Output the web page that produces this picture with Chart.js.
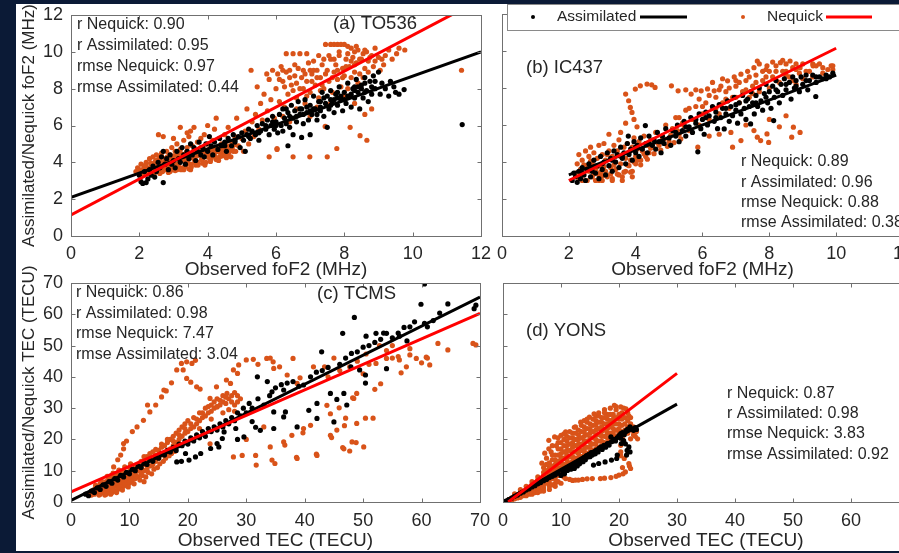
<!DOCTYPE html>
<html>
<head>
<meta charset="utf-8">
<script src="https://cdn.jsdelivr.net/npm/chart.js@4"></script>
<style>
  body { margin: 0; width: 899px; height: 553px; overflow: hidden; background: #0b1a36; position: relative; }
  #paper { position: absolute; left: 16px; top: 4px; width: 883px; height: 547px; background: #ffffff; overflow: hidden; }
  canvas { position: absolute; }
</style>
</head>
<body>
<div id="paper">
  <canvas id="toChart" width="482" height="286" style="left:0px;top:-8px"></canvas>
  <canvas id="icChart" width="430" height="278" style="left:474px;top:0px"></canvas>
  <canvas id="tcChart" width="482" height="289" style="left:0px;top:260px"></canvas>
  <canvas id="yoChart" width="440" height="281" style="left:474px;top:268px"></canvas>
</div>
<script>
// values: [observed, model]
// (a) TO536 foF2 (MHz)
var toAssim = [
  [2.0,3.3],[2.05,2.95],[2.1,2.85],[2.15,3.5],[2.2,2.9],[2.25,3.1],[2.3,3.6],[2.35,3.3],[2.4,3.8],[2.45,3.2],
  [2.5,3.5],[2.55,4.0],[2.6,3.7],[2.65,4.3],[2.7,2.9],[2.7,4.6],[2.75,3.9],[2.8,4.2],[2.85,3.6],[2.9,4.4],
  [2.95,3.9],[3.0,4.1],[3.05,3.7],[3.1,4.6],[3.15,4.2],[3.2,4.0],[3.25,4.8],[3.3,4.4],[3.35,3.9],[3.4,4.6],
  [3.45,4.2],[3.5,5.0],[3.55,4.4],[3.6,4.8],[3.65,4.1],[3.7,4.6],[3.75,5.1],[3.8,4.4],[3.85,4.8],[3.9,4.3],
  [3.95,5.0],[4.0,4.6],[4.05,5.4],[4.1,4.9],[4.15,4.4],[4.2,5.1],[4.3,4.7],[4.35,5.3],[4.4,4.9],[4.5,5.1],
  [4.55,4.6],[4.6,5.3],[4.7,4.9],[4.75,5.5],[4.8,5.1],[4.9,5.4],[4.95,4.8],[5.0,5.6],[5.05,5.2],[5.1,4.6],
  [5.15,5.5],[5.2,5.8],[5.25,5.3],[5.3,5.7],[5.4,5.5],[5.45,6.0],[5.5,5.2],[5.55,5.7],[5.6,6.1],[5.7,5.8],
  [5.75,6.3],[5.8,5.5],[5.85,6.0],[5.9,6.5],[5.95,5.8],[6.0,6.2],[6.05,5.6],[6.1,6.6],[6.15,6.0],[6.2,6.9],
  [6.2,5.7],[6.25,6.4],[6.3,6.1],[6.35,4.9],[6.35,6.7],[6.4,5.9],[6.45,7.1],[6.5,6.4],[6.5,5.5],[6.55,6.8],
  [6.6,6.2],[6.65,7.3],[6.7,6.6],[6.75,5.35],[6.75,6.9],[6.8,6.1],[6.85,7.4],[6.9,6.7],[6.95,6.3],[7.0,5.5],
  [7.0,7.1],[7.05,6.6],[7.1,7.6],[7.15,6.9],[7.2,6.3],[7.25,7.3],[7.3,6.8],[7.35,7.8],[7.4,6.5],[7.45,7.2],
  [7.5,5.9],[7.5,7.6],[7.55,6.9],[7.6,7.9],[7.65,7.3],[7.7,6.7],[7.75,7.7],[7.8,7.1],[7.85,8.1],[7.9,7.4],
  [7.95,6.8],[8.0,7.8],[8.05,7.2],[8.1,8.3],[8.15,7.6],[8.2,7.0],[8.25,8.0],[8.3,7.5],[8.35,8.5],[8.4,7.8],
  [8.45,6.9],[8.5,8.2],[8.55,7.5],[8.6,8.6],[8.65,7.9],[8.7,7.3],[8.75,8.4],[8.8,7.7],[8.85,8.7],[8.9,8.0],
  [9.0,8.9],[9.05,7.7],[9.1,8.3],[9.2,8.0],[9.3,7.6],[9.35,8.4],[9.45,8.1],[9.5,7.8],[9.6,7.7],[9.75,7.95],
  [11.45,6.05],
  [6.3,6.9],[6.6,6.5],[6.9,7.0],[7.2,6.6],[7.4,7.5],[7.6,7.1],[7.8,7.5],[8.0,7.4],[8.2,7.7],[8.4,8.1],
  [8.6,7.8],[8.8,8.1],[7.1,6.9],[7.7,7.4],[8.3,7.9],[6.8,6.6],[7.3,7.0],[7.9,7.6],[8.5,8.0],[5.5,5.6],
  [5.7,6.0],[6.0,6.0],[4.8,5.2],[5.2,5.4],[4.5,4.9],[5.9,6.2],[6.4,6.5],[6.7,6.9],[7.0,6.8],[7.3,7.3],
  [7.6,7.4],[7.8,7.8],[8.1,7.6],[8.3,8.1],[8.6,8.3],[8.9,8.4]
];
var toNequick = [
  [1.9,3.5],[1.95,3.7],[2.0,3.6],[2.05,3.9],[2.1,3.4],[2.15,3.8],[2.2,3.5],[2.2,4.0],[2.25,3.7],[2.3,4.2],
  [2.3,3.4],[2.35,3.9],[2.4,3.6],[2.4,4.3],[2.45,4.0],[2.5,3.5],[2.5,4.4],[2.55,3.8],[2.56,5.5],[2.6,4.1],
  [2.6,3.6],[2.65,4.5],[2.7,3.8],[2.7,5.4],[2.75,4.2],[2.8,3.6],[2.8,4.6],[2.85,4.0],[2.9,3.7],[2.9,4.4],
  [2.95,4.8],[3.0,3.8],[3.0,4.2],[3.05,4.6],[3.1,3.9],[3.1,5.0],[3.15,4.3],[3.2,3.7],[3.2,4.7],[3.2,5.9],
  [3.25,4.1],[3.3,5.2],[3.3,4.4],[3.35,3.8],[3.4,4.8],[3.4,4.1],[3.45,5.4],[3.5,4.4],[3.5,3.9],[3.55,4.9],
  [3.6,4.2],[3.6,5.9],[3.65,4.6],[3.7,5.1],[3.7,4.0],[3.75,4.4],[3.8,4.8],[3.8,5.3],[3.85,4.2],[3.9,4.6],
  [3.95,4.0],[4.0,5.0],[4.0,4.4],[4.05,4.7],[4.1,4.2],[4.15,5.2],[4.2,4.5],[4.25,6.4],[4.3,4.8],[4.35,4.3],
  [4.4,5.0],[4.45,4.5],[4.5,5.5],[4.55,4.8],[4.6,4.4],[4.7,5.1],[4.75,4.6],[4.8,5.4],[4.85,6.4],[4.9,4.9],
  [5.0,5.3],[2.15,3.55],[2.35,3.75],[2.45,3.45],[2.55,4.15],[2.65,3.65],[2.75,3.95],[2.85,3.45],[2.95,4.15],
  [3.05,3.55],[3.15,3.75],[3.25,4.45],[3.35,4.15],[3.45,3.65],[3.55,4.25],[3.65,3.85],[3.75,4.65],[3.85,3.95],
  [3.95,4.45],[4.05,4.25],[4.15,4.65],[4.25,4.15],[4.35,4.55],[4.45,4.85],[4.55,4.25],[4.65,4.65],[2.6,3.4],
  [2.9,3.5],[3.1,3.6],[3.3,3.6],[3.5,3.6],[2.4,3.9],[3.0,5.3],[3.4,5.6],[3.9,5.5],[4.2,5.8],[4.6,5.9],
  [4.0,6.0],[3.5,5.7],
  [2.05,3.45],[2.12,3.65],[2.18,3.85],[2.28,3.55],[2.33,3.95],[2.38,3.45],[2.42,3.7],[2.48,4.1],[2.52,3.6],
  [2.58,3.9],[2.62,4.3],[2.68,3.5],[2.72,4.0],[2.78,3.75],[2.82,4.3],[2.88,3.85],[2.92,4.1],[2.98,3.6],
  [3.02,4.35],[3.08,3.85],[3.12,4.5],[3.18,4.0],[3.22,3.6],[3.28,4.25],[3.32,3.75],[3.38,4.55],[3.42,3.95],
  [3.48,4.3],[3.52,3.75],[3.58,4.6],[3.62,4.0],[3.68,4.35],[3.72,3.85],[3.78,4.5],[3.82,4.15],[3.88,4.75],
  [3.92,3.85],[3.98,4.3],[4.02,4.55],[4.08,4.05],[4.12,4.4],[4.18,4.8],[4.22,4.3],[4.28,4.6],[4.32,4.1],
  [4.38,4.75],[4.42,4.35],[4.48,4.6],[4.52,4.4],[4.58,4.9],[4.62,4.55],[4.68,4.3],[4.72,4.75],[4.78,4.95],
  [4.82,4.6],
  [5.05,4.6],[5.1,5.7],[5.15,6.9],[5.2,5.0],[5.27,9.0],[5.3,6.2],[5.35,5.4],[5.4,6.6],[5.45,8.1],[5.5,5.8],
  [5.55,7.2],[5.6,6.3],[5.65,7.7],[5.73,8.8],[5.75,6.8],[5.8,4.3],[5.8,8.5],[5.85,7.4],[5.9,9.0],[5.95,6.4],
  [6.0,8.0],[6.03,4.7],[6.05,8.8],[6.1,7.3],[6.15,9.2],[6.2,8.4],[6.25,7.0],[6.3,9.9],[6.3,8.9],[6.35,7.7],
  [6.4,9.0],[6.45,8.2],[6.5,4.3],[6.5,9.9],[6.55,8.7],[6.6,7.5],[6.65,9.1],[6.7,9.9],[6.7,8.0],[6.75,8.6],
  [6.8,9.0],[6.85,7.2],[6.9,9.9],[6.9,8.4],[6.99,4.3],[7.0,9.0],[7.0,7.8],[7.05,8.8],[7.1,9.5],[7.15,8.2],
  [7.2,9.0],[7.25,7.5],[7.3,8.6],[7.35,9.3],[7.4,8.0],[7.44,5.95],[7.45,10.4],[7.5,4.3],[7.5,9.0],[7.55,8.4],
  [7.6,10.4],[7.6,9.6],[7.65,7.8],[7.7,10.4],[7.7,8.9],[7.75,9.3],[7.78,4.75],[7.8,10.4],[7.8,8.5],[7.85,9.8],
  [7.9,10.4],[7.9,8.1],[7.95,9.1],[8.0,10.4],[8.0,8.7],[8.05,9.6],[8.1,10.3],[8.1,8.0],[8.15,9.2],[8.2,10.2],
  [8.2,8.6],[8.17,5.9],[8.25,9.7],[8.3,10.0],[8.3,8.9],[8.35,9.4],[8.4,10.1],[8.45,8.8],[8.46,5.45],[8.5,9.6],
  [8.55,9.9],[8.6,9.1],[8.66,5.2],[8.65,10.0],[8.7,9.5],[8.8,9.8],[8.85,9.2],[8.9,10.2],[9.05,9.0],[9.1,9.6],
  [9.2,9.8],[9.3,10.1],[9.4,9.6],[9.53,9.9],[9.6,10.2],[9.77,10.1],[11.43,9.0],
  [6.2,6.5],[6.6,6.9],[7.0,6.5],[7.2,7.0],[6.4,6.2],[7.6,7.2],[8.3,7.2],[8.6,6.6],[8.8,6.9],[6.03,4.75],
  [6.1,8.5],[6.2,9.0],[6.25,8.1],[6.4,8.6],[6.5,7.9],[6.55,9.3],[6.6,8.3],[6.8,8.0],[6.85,8.8],[6.95,9.4],
  [7.05,8.4],[7.1,9.0],[7.2,8.6],[7.25,9.8],[7.35,8.2],[7.4,9.6],[7.45,8.8],[7.55,9.8],[7.65,8.6],[7.7,9.6],
  [7.8,9.0],[7.85,10.0],[7.95,8.6],[8.05,9.2],[8.1,9.9],[8.2,9.5],[8.3,9.3],[8.35,10.3],[8.45,9.6],[8.55,8.6],
  [8.6,10.1],[8.7,8.9],[8.75,9.7],[8.9,9.5],[9.0,9.7],[9.15,9.3],[8.0,7.6],[7.3,7.9],[6.9,7.6],[8.4,8.3]
];
var toFitAssim = [[0,2.1],[12,10.0]];
var toFitNequick = [[0,1.15],[12,12.85]];

// (b) IC437 foF2 (MHz)
var icAssim = [
  [2.1,3.0],[2.15,3.4],[2.2,3.2],[2.25,2.9],[2.3,3.5],[2.35,3.1],[2.4,3.7],[2.45,3.3],[2.5,3.0],[2.55,3.6],
  [2.6,3.9],[2.65,3.2],[2.7,3.5],[2.75,4.1],[2.8,3.4],[2.85,3.8],[2.9,3.1],[2.95,4.3],[3.0,3.6],[3.05,4.0],
  [3.1,3.3],[3.15,4.5],[3.2,3.8],[3.25,4.2],[3.3,3.5],[3.35,4.6],[3.4,4.0],[3.45,4.4],[3.5,3.7],[3.55,4.8],
  [3.6,4.2],[3.65,4.5],[3.7,3.9],[3.75,5.0],[3.78,5.4],[3.8,4.4],[3.85,4.7],[3.9,4.1],[3.95,5.1],[4.0,4.5],
  [4.05,4.9],[4.1,4.3],[4.15,5.3],[4.2,4.7],[4.29,5.97],[4.3,5.0],[4.35,4.5],[4.4,5.4],[4.5,4.9],[4.55,5.2],
  [4.6,4.7],[4.65,5.6],[4.7,5.1],[4.76,4.5],[4.8,5.4],[4.85,5.0],[4.9,5.8],[5.0,5.3],[5.05,4.9],[5.1,5.7],
  [5.2,5.4],[5.25,6.0],[5.3,5.1],[5.4,5.7],[5.45,6.2],[5.5,5.4],[5.6,5.9],[5.65,6.4],[5.7,5.6],[5.8,6.1],
  [5.86,4.55],[5.9,6.6],[5.95,5.8],[6.0,6.3],[6.05,5.5],[6.1,6.7],[6.15,6.0],[6.2,6.5],[6.3,7.0],[6.35,6.2],
  [6.4,6.7],[6.45,5.8],[6.5,7.1],[6.55,6.4],[6.6,6.9],[6.65,5.79],[6.7,6.6],[6.75,7.3],[6.8,6.2],[6.85,7.0],
  [6.9,6.5],[6.95,7.5],[7.0,6.8],[7.05,6.1],[7.1,7.2],[7.15,6.6],[7.2,7.6],[7.25,6.9],[7.3,6.3],[7.35,7.4],
  [7.4,7.0],[7.44,6.06],[7.45,7.8],[7.5,7.2],[7.55,6.6],[7.6,7.6],[7.65,7.0],[7.7,8.0],[7.75,7.3],[7.8,6.8],
  [7.85,7.7],[7.9,8.2],[7.95,7.2],[8.0,7.8],[8.05,6.9],[8.1,8.1],[8.13,6.24],[8.15,7.5],[8.2,8.4],[8.25,7.8],
  [8.3,7.2],[8.35,8.2],[8.4,7.6],[8.45,8.5],[8.5,7.9],[8.6,8.3],[8.65,7.4],[8.7,8.6],[8.75,8.0],[8.8,8.4],
  [8.9,7.8],[8.95,8.6],[9.0,8.2],[9.1,8.7],[9.15,7.9],[9.2,8.4],[9.3,8.7],[9.39,7.54],[9.4,8.3],[9.5,8.6],
  [9.6,8.5],[9.7,8.7],[9.8,8.6],[9.9,8.8],
  [5.5,5.9],[5.8,6.3],[6.1,6.4],[6.4,6.4],[6.7,6.9],[7.0,7.1],[7.3,7.3],[7.6,7.2],[7.9,7.5],[8.2,7.9],
  [8.5,8.2],[8.8,8.1],[9.1,8.4],[9.4,8.6],[9.7,8.5],[4.0,4.8],[4.4,5.0],[4.8,5.1],[5.2,5.6],[3.0,3.9],
  [3.3,4.1],[3.6,4.3],[2.4,3.4],[2.7,3.7]
];
var icNequick = [
  [2.2,3.4],[2.25,3.9],[2.3,4.4],[2.3,3.1],[2.35,3.6],[2.4,4.1],[2.45,3.3],[2.5,3.8],[2.5,4.6],[2.55,3.0],
  [2.6,3.5],[2.6,4.3],[2.65,4.8],[2.7,3.2],[2.7,3.9],[2.75,4.5],[2.8,3.0],[2.8,3.6],[2.85,4.2],[2.9,4.9],
  [2.9,3.3],[2.95,3.8],[3.0,4.4],[3.0,3.0],[3.05,5.0],[3.1,3.5],[3.1,4.1],[3.15,3.2],[3.2,4.6],[3.2,5.5],
  [3.25,3.7],[3.3,4.3],[3.3,3.1],[3.35,4.9],[3.4,3.6],[3.4,4.0],[3.45,4.6],[3.5,3.3],[3.5,5.2],[3.55,3.9],
  [3.6,4.4],[3.6,3.0],[3.65,4.8],[3.7,3.5],[3.7,4.2],[3.75,5.0],[3.8,3.8],[3.8,4.5],[3.85,4.1],[3.9,4.8],
  [3.9,3.5],[3.95,5.3],[4.0,4.3],[4.0,3.9],[4.05,4.7],[4.1,5.1],[4.15,4.1],[4.2,4.6],[4.25,5.4],[4.3,4.3],
  [4.35,4.9],[4.4,4.5],[4.45,5.2],[4.5,4.8],
  [2.35,3.35],[2.45,3.85],[2.55,3.55],[2.65,4.05],[2.75,3.35],[2.85,3.75],[2.95,3.45],[3.05,3.75],[3.15,4.4],
  [3.25,3.35],[3.35,3.85],[3.45,3.35],[3.55,4.3],[3.65,3.45],[3.75,3.85],[3.85,3.45],[3.95,4.0],[4.05,4.1],
  [4.15,3.85],[4.25,4.45],[4.35,4.15],[4.45,4.75],[4.55,4.45],[4.65,5.05],[4.75,4.65],[4.85,5.25],[4.95,4.85],
  [5.05,5.45],[5.15,5.05],[5.25,5.7],[5.35,5.25],[5.45,5.95],[3.3,3.0],[3.6,3.2],[3.9,3.2],[3.0,3.25],
  [2.4,3.0],[2.9,3.0],
  [3.55,5.6],[3.7,6.1],[3.84,6.95],[3.89,6.68],[3.79,7.31],[3.7,7.67],[3.99,7.94],[4.14,8.12],[4.34,8.21],
  [4.48,8.17],[4.58,8.03],[3.95,6.3],[4.04,5.9],
  [4.6,5.6],[4.7,4.9],[4.8,5.3],[4.9,6.0],[5.0,5.1],[5.1,5.8],[5.2,6.4],[5.3,5.5],[5.4,6.1],[5.5,6.8],
  [5.6,5.7],[5.7,6.3],[5.8,7.0],[5.9,6.0],[6.0,6.6],[6.1,7.2],[6.2,6.3],[6.3,6.9],[6.4,7.5],[6.5,6.6],
  [6.6,7.2],[6.7,7.8],[6.8,6.9],[6.9,7.5],[7.0,8.1],[7.1,7.2],[7.2,7.8],[7.3,8.4],[7.4,7.5],[7.5,8.1],
  [7.6,8.7],[7.7,7.8],[7.8,8.4],[7.9,9.0],[8.0,8.0],[8.1,8.6],[8.2,9.2],[8.3,8.3],[8.4,8.9],[8.5,9.3],
  [8.6,8.6],[8.7,9.1],[8.8,8.2],[8.9,8.8],[9.0,9.3],[9.2,8.9],[9.4,9.2],[9.6,8.8],[9.85,9.2],[9.3,9.3],
  [5.07,8.12],[5.27,7.85],[5.5,7.9],[5.66,7.67],[5.8,7.9],[5.96,7.85],[6.15,7.95],[6.35,7.85],[6.55,8.1],
  [6.75,8.39],[6.95,8.6],[7.15,8.75],[7.35,8.9],[7.54,9.1],[7.64,9.46],[7.93,9.2],[8.1,9.4],[8.33,9.37],
  [8.62,9.46],[8.8,9.3],[8.92,9.1],[9.31,9.2],[9.5,9.3],[9.9,9.2],[6.3,8.3],[6.6,8.5],[7.0,8.4],[7.4,8.6],
  [7.8,8.9],[8.2,8.9],[8.5,8.7],[7.7,9.3],[8.4,9.5],
  [5.9,7.4],[6.2,7.6],[6.5,7.9],[6.8,8.0],[7.1,8.3],[7.3,7.9],[7.6,8.3],[7.9,8.6],[8.2,8.4],[8.5,8.9],
  [8.8,9.0],[9.1,8.9],[9.3,8.6],[9.6,9.1],[7.0,7.5],[7.5,7.7],[8.0,8.9],[8.7,8.4],[9.0,8.5],[6.0,7.0],
  [6.4,6.9],[6.7,7.4],[5.3,6.4],[5.6,6.9],[9.75,9.0],[9.9,9.0],
  [7.74,5.16],[7.93,5.52],[8.72,5.88],[8.67,5.34],[8.92,5.6],[7.98,5.06],[7.64,5.34],[6.9,4.8],[6.85,5.6],
  [7.54,5.7],[5.86,4.8],[7.15,5.16],[8.3,5.9],[6.5,5.5],[7.3,6.0],[8.0,6.3],[8.5,6.5],[6.2,5.4]
];
var icFitAssim = [[2,3.3],[10,8.7]];
var icFitNequick = [[2,3.0],[10,10.15]];

// (c) TCMS TEC (TECU)
var tcAssim = [
  [2.5,2.5],[3,2],[3.5,3.5],[4,3],[4.5,4.5],[5,4],[5.5,5.5],[6,5],[6.5,6.5],[7,6],[7.5,7.5],[8,7],[8.5,8.5],
  [9,8],[9.5,9.5],[10,9],[10.5,10.5],[11,10],[11.5,11.5],[12,11],[12.5,12.5],[13,12],[13.5,13.5],[14,13],
  [14.5,14.5],[15,14],[15.5,15.5],[16,15],[16.5,16.5],[17,16],[17.5,17.5],[18,16.5],[18.1,12.8],[18.5,18.5],
  [18.9,13],[19,18],[19.5,19.5],[19.6,15.5],[20.2,13.4],[21.3,14.4],[22.2,15.5],[20,18.5],[20.5,20.5],
  [21,19.5],[21.5,21.5],[22,20.5],[22.5,22.5],[23,21],[23.9,17.1],[23.5,23.5],[24,22.5],[24.5,24],[25,23],
  [25.3,17.6],[25,18.7],[25.5,25],[25.9,20.3],[26,24],[26.2,22.4],[26.5,26],[27,25],[27.5,27],[28,26],
  [28.2,23.5],[28.5,20],[28.5,28.5],[29,27.5],[29.6,20.8],[29.5,30],[30,28.5],[30.5,31.5],[31,30],[31,25.7],
  [31.6,23.9],[32.4,22.9],[31.9,40],[32,33],[33,31],[33.6,38.5],[34,34],[34.4,35.2],[34.7,28.8],[34.7,23.5],
  [35,36.5],[36,37.5],[36.4,35.8],[36.4,27.2],[36.7,28.8],[37,38],[38,38.5],[38.7,24],[39,37],[39.8,37.4],
  [40.7,29.3],[41,40],[42,41.5],[42.1,31.5],[42.1,26.7],[42.9,48],[43,42],[44,43],[44.4,34.7],[45,25.6],
  [45.5,32.8],[46,44],[46.5,53.9],[46.7,34.7],[47,46],[47.2,31],[47.9,43.2],[48,47.5],[48.5,59],[49,48],
  [49.4,42.2],[50,49.5],[50.4,40.6],[50.4,38],[50.5,53],[51,50],[52,51],[52.2,53.9],[53,52],[53.5,54],
  [54,53.9],[54,42.6],[55,52.5],[56,54],[56.2,53],[57,55.8],[57.5,51.5],[58,56],[58.8,57.6],[59.9,63.2],
  [60.5,57.1],[60.5,69.7],[61,56],[62,58],[63.1,60.4],[64.5,63.3],[69,61.8],[69.3,62.9]
];
var tcNequick = [
  [3,2.5],[3.5,3.5],[4,2.5],[4,4],[4.5,3],[4.5,5],[5,2.5],[5,3.5],[5,4.5],[5,6],[5.5,3],[5.5,4],[5.5,5.5],
  [6,2.5],[6,3.5],[6,5],[6,6.5],[6.5,3],[6.5,4],[6.5,5.5],[6.5,7.5],[7,3],[7,4.5],[7,6],[7,8],[7.5,3.5],
  [7.5,5],[7.5,6.5],[7.5,8.5],[8,4],[8,5.5],[8,7],[8,9],[8.5,4.5],[8.5,6],[8.5,7.5],[8.5,9.5],[9,5],[9,6.5],
  [9,8],[9,10],[9.5,5.5],[9.5,7],[9.5,8.5],[10,6],[10,7.5],[10,9],[10,11],[10.5,7],[10.5,8.5],[10.5,10],
  [11,7.5],[11,9],[11,11],[11.5,8],[11.5,10],[11.5,12],[12,9],[12,11],[12,13],[12.5,6.5],[12.5,10],
  [12.5,12],[13,10.5],[13,13],[13,14.5],[13.5,11.5],[13.5,13.5],[14,12],[14,14],[14,16],[14.5,13],
  [14.5,15],[15,14],[15,16.5],[15.5,15],[15.5,17.5],[16,15.5],[16,18],[16.5,16.5],[16.5,19],[17,17],
  [17,20],[17.5,18],[17.5,21],[18,19],[18,22],[18.5,20],[18.5,23],[19,21],[19,24],[19.5,22],[19.5,25],
  [20,22.5],[20,26],[20.5,23.5],[21,24],[21,27],[21.5,25],[22,26],[22,28.5],[22.5,27],[23,27.5],[23,30],
  [23.5,28.5],[24,29],[24,31],[24.5,30],[25,30.5],[25,33],[25.5,31],[26,32],[26,34],[26.5,31.5],[27,33],
  [27.5,34],[28,31],[28,35],[28.5,32],
  [3.5,2.2],[4.2,3.2],[4.8,2.2],[5.2,3.0],[5.8,2.2],[6.2,4.2],[6.8,2.5],[7.2,3.8],[7.8,3.0],[8.2,4.8],
  [8.8,3.8],[9.2,5.8],[9.8,4.8],[10.2,6.8],[10.8,5.8],[11.2,8.2],[11.8,7],[12.2,8.5],[12.8,8],[13.2,9.5],
  [13.8,9],[14.2,10.5],[14.8,11],[15.2,12.2],[15.8,13],[16.2,14],[16.8,14.8],[17.2,15.5],[17.8,16.2],
  [4.2,5.3],[5.2,6.8],[6.2,8.2],[7.2,9.2],[8.2,10.2],[9.2,11.2],[10.2,12.2],[3.8,3.8],[6.8,5],[7.8,6],
  [8.8,7],[9.8,8],[10.8,9],[11.8,10],
  [12.5,14.5],[13.5,15.5],[14.5,16.8],[15.5,18.5],[16.5,20],[17.5,19.5],[18.5,21.5],[19.5,23.5],[20.5,25],
  [21.5,26.5],[22.5,28.5],[23.5,30.5],[24.5,32],[25.5,32.5],[26.5,33.5],[27.5,32],[28.5,34],[29,33],
  [22,23.5],[24,26.5],[26,28.5],[27,29.5],[28,29],
  [7.3,11.2],[8,13.5],[8.5,15],[9,17],[9,18.7],[9.5,19.5],[10.5,22.5],[11.3,24],[12.4,26.1],[13.1,31],
  [13.5,28.8],[14.5,31],[15.5,33.6],[15.9,35.8],[16.3,35.5],[17.2,38.1],[18.1,42.2],[18.9,44.3],[19.8,44.8],
  [20.7,44.3],[21.3,45.3],[19.2,42.2],[19.8,39.5],[20.5,38.3],[21.5,36.8],[22.1,36.1],[23.8,33.1],[25,30.4],
  [24.9,36.8],[26.6,39],[26.7,34.7],[27.3,37.9],[27.8,42.2],[28.5,41.1],[28.7,43.8],[30,45.4],[31.2,45.6],
  [32,44],[33.5,45.9],[34.1,46],[34.6,44.8],[34.7,42.7],[35.7,43.2],[37,40.6],[38,45.9],[38.7,37.9],
  [23.8,18.6],[27.8,14.4],[29.3,14.9],[31.6,14.9],[31.7,11.8],[34.4,13.4],[34.9,12.3],[34.1,17.6],
  [36.4,19.2],[36.6,18.2],[37.8,21.3],[38.6,14.3],[38.7,13.9],[39.7,22.1],[39.8,23.5],[41,24.5],[42,15.3],
  [42.1,14.9],[44.4,21.3],[44.6,20.6],[45.5,23],[46.5,17.4],[46.7,17],[46.8,24.4],[47,26.8],[47.7,16.3],
  [48.1,19.2],[48.8,19],[48.9,25.1],[50.1,17.6],[50.4,26.8],[51.7,26.8],[45.9,30.1],[44.4,28.2],[43.8,30.9],
  [48.2,33.3],[48.9,34.7],[48.4,33.1],[30,20],[33,24],
  [39.2,39.7],[41.5,43.2],[43.4,43.2],[44,40],[45,46],[46,42],[47.7,43.2],[49,45],[50.5,47.3],[51,44],
  [52.2,44.3],[52.8,50],[53,37.8],[54,45.9],[54,48.4],[55,46],[56.2,45.4],[56.5,41.3],[57.4,43.2],[58,47],
  [59.1,45.9],[60,44.5],[60.8,46.3],[61.4,43.8],[62.8,50.7],[64.5,48.6],[68.8,50.7],[69.3,50.2],[58,49],
  [55,50],[50,41],[52,36],[56,46.5],[61,46]
];
var tcFitAssim = [[0,0.5],[70,65.5]];
var tcFitNequick = [[0,3.2],[70,60.3]];

// (d) YONS TEC (TECU)
var yoAssim = [
  [0.5,0.3],[1,0.8],[1.5,1.2],[2,1.8],[2.5,2.2],[3,2.8],[3.5,3.2],[4,3.8],[4.5,4.2],[5,4.8],[5.5,5.2],[6,5.8],
  [6.5,6.2],[7,6.8],[7.5,7.2],[8,7.8],[8.5,8.2],[9,8.6],[9.5,9.2],
  [10,8.5],[10.3,9.8],[10.6,9],[10.9,10.6],[11.1,10.1],[11.4,11.3],[11.7,10.5],[12,11.8],[12.3,10.7],
  [12.5,12.3],[12.8,11.5],[13,13],[13.2,12.2],[13.4,12.8],[13.6,13.7],[13.8,12.9],[14,14.3],[14.2,13.5],
  [14.4,14.8],[14.6,14.4],[14.8,15.2],[15,14.5],[15.2,15.8],[15.4,15],[15.7,16],[15.9,15.4],[16.1,16.6],
  [16.4,16],[16.6,17.2],[16.9,17.6],[17.1,16.8],[17.4,18.1],[17.7,17.5],[18,18.7],[18.3,18.2],[18.6,20.8],
  [18.8,19.3],[19.1,20],[19.4,19.5],[19.7,20.6],[20,21.2],[20.3,21.9],[20.3,20.4],[20.6,22.2],[20.9,21.5],
  [21.2,22.8],[21.5,23.3],[21.9,24],[22.2,23.4],[22.5,22.9],[22.8,23.8],[23,23.2],[21.1,18.6],[21.4,16.5],
  [21.7,17.6],[21.9,16],[21.3,15],[20.4,18.7],[20.8,19.6],[19.7,15],[19.6,13.9],[18.7,13.4],[17.6,12.8],
  [16.5,12.3],[15.6,11.8]
];
var yoNequick = [
  [1,0.2],[1,0.8],[1.5,0.5],[1.5,1.3],[2,1],[2,1.8],[2,2.6],[2.5,1.3],[2.5,2.3],[3,1.5],[3,2.3],[3,3.2],[3,4],
  [3.5,2],[3.5,3],[4,2],[4,3],[4,4],[4,5],[4.5,2.5],[4.5,3.5],[4.5,4.5],[5,2.5],[5,3.5],[5,4.5],[5,5.5],[5,6.5],
  [5.5,3],[5.5,4],[5.5,5],[5.5,6],[6,3],[6,4],[6,5],[6,6],[6,7],[6,8],
  [1.2,0.5],[1.8,1.4],[2.2,1.6],[2.8,2],[3.2,2.6],[3.8,2.8],[3.8,3.5],[4.2,3.4],[4.8,3.2],[4.8,4],[5.2,3.8],
  [5.8,4.6],[6.2,4.5],[6.5,3.5],[6.5,5.5],[6.5,7.2],[6.8,6],
  [7,3.5],[7,4.5],[7,5.5],[7,6.5],[7,7.5],[7,8.5],[7,9.5],[7,11],[7.2,15.6],[6.7,12.4],[7.5,14],
  [8,4],[8,5],[8,6],[8,7],[8,8],[8,9],[8,10],[8,11],[8,12.5],[7.9,17],[7.9,19.7],[8.3,16],
  [9,5],[9,6],[9,7.5],[9,9],[9,10.5],[9,12],[9,13.5],[9,15],[8.9,20.8],[9.2,18],
  [10,6],[10,9.6],[10,11],[10,12.5],[10,14],[10,15.5],[10,17],[10,19],[10,21.3],
  [10.8,7.5],[11,12],[11,13.5],[11,15],[11,16.5],[11,18],[11,19.5],[10.8,22.4],[11,21],
  [12,6.9],[12,13],[12,14.5],[12,16],[12,17.5],[12,19],[12,20.5],[12,22],[12.3,23.9],
  [13,7],[13,14],[13,15.5],[13,17],[13,18.5],[13,20],[13,21.5],[13,23],[13.4,25.5],
  [13.7,7.2],[14,15],[14,16.5],[14,18],[14,19.5],[14,21],[14,22.5],[14,24],[14,26],
  [15.4,7.5],[15,16],[15,17.5],[15,19],[15,20.5],[15,22],[15,23.5],[15,25],[14.9,27.1],[15.7,28.2],
  [16.8,7.5],[16,17],[16,18.5],[16,20],[16,21.5],[16,23],[16,24.5],[16,26],[16,27.5],
  [17,18],[17,19.5],[17,21],[17,22.5],[17,24],[17,25.5],[17,27],[17.5,29.5],
  [18.6,7.8],[18,19],[18,20.5],[18,22],[18,23.5],[18,25],[18,26.5],[18,28],[18.5,30],
  [19,20.5],[19,22],[19,23.5],[19,25],[19,26.5],[19,28],[19.2,30.9],[19.5,29.5],
  [20,8.6],[20.3,16],[20.3,18.1],[20.6,20.2],[20,22],[20,23.5],[20,25],[20,26.6],[20,28],[20.3,30.4],
  [21.1,9.6],[20.9,13.9],[21.7,12.3],[22,10.7],[22,20.2],[21,23],[21,25],[21,27],[21.2,29.8],[21.5,28.5],
  [23.2,20.2],[22.5,21.5],[22,23],[22,25],[22.5,24],[22,27],[23,22.5],
  [7.5,6],[7.5,8],[7.5,10],[7.5,12],[8.5,5.5],[8.5,7.5],[8.5,9.5],[8.5,11.5],[8.5,13.5],[8.5,15],[8.5,18],
  [9.5,6.5],[9.5,8.5],[9.5,11],[9.5,13],[9.5,15],[9.5,17],[9.5,19],[9.5,20.5],[10.5,8],[10.5,12],[10.5,14],
  [10.5,16],[10.5,18],[10.5,20],[10.5,21.8],[11.5,7.2],[11.5,12.5],[11.5,14.5],[11.5,16.5],[11.5,18.5],
  [11.5,20.5],[11.5,22.5],[12.5,7],[12.5,14],[12.5,16],[12.5,18],[12.5,20],[12.5,22],[12.5,24],[13.5,14.5],
  [13.5,16.5],[13.5,18.5],[13.5,20.5],[13.5,22.5],[13.5,24.5],[14.5,7.4],[14.5,15.5],[14.5,17.5],[14.5,19.5],
  [14.5,21.5],[14.5,23.5],[14.5,25.5],[14.5,26.5],[15.5,16.5],[15.5,18.5],[15.5,20.5],[15.5,22.5],
  [15.5,24.5],[15.5,26.5],[16.5,17.5],[16.5,19.5],[16.5,21.5],[16.5,23.5],[16.5,25.5],[16.5,27.5],
  [16.5,28.5],[17.5,7.6],[17.5,19],[17.5,21],[17.5,23],[17.5,25],[17.5,27],[17.5,28.5],[18.5,20],[18.5,22],
  [18.5,24],[18.5,26],[18.5,28],[19.5,8.2],[19.5,21],[19.5,23],[19.5,25],[19.5,27],[19.5,30.5],[20.5,22.5],
  [20.5,24.5],[20.5,26.5],[20.5,28.5],[20.8,30],[21.5,22],[21.5,24],[21.5,26],[21.7,27.5],[22.5,22.8],
  [22.8,21],[20.6,11],[20.3,14.8],[21.8,11.5],[20.7,9]
];
var yoFitAssim = [[0,0],[30,31.3]];
var yoFitNequick = [[0.9,0],[30,41.1]];

var FONT = "'Liberation Sans', Arial, Helvetica, sans-serif";
var INK = '#262626';

// MATLAB style box with inward ticks on all four sides
var boxTicks = {
  id: 'boxTicks',
  afterDatasetsDraw: function(chart) {
    var a = chart.chartArea, ctx = chart.ctx;
    var l = Math.round(a.left) + 0.5, r = Math.round(a.right) + 0.5;
    var t = Math.round(a.top) + 0.5, b = Math.round(a.bottom) + 0.5;
    ctx.save();
    ctx.strokeStyle = '#707070';
    ctx.lineWidth = 1;
    ctx.strokeRect(l, t, r - l, b - t);
    ctx.beginPath();
    chart.scales.x.ticks.forEach(function(tk) {
      var px = Math.round(chart.scales.x.getPixelForValue(tk.value)) + 0.5;
      ctx.moveTo(px, b); ctx.lineTo(px, b - 4);
      ctx.moveTo(px, t); ctx.lineTo(px, t + 4);
    });
    chart.scales.y.ticks.forEach(function(tk) {
      var py = Math.round(chart.scales.y.getPixelForValue(tk.value)) + 0.5;
      ctx.moveTo(l, py); ctx.lineTo(l + 4, py);
      ctx.moveTo(r, py); ctx.lineTo(r - 4, py);
    });
    ctx.stroke();
    ctx.restore();
  }
};

// text boxes and the shared legend
var notes = {
  id: 'notes',
  afterDraw: function(chart, args, opts) {
    var ctx = chart.ctx;
    ctx.save();
    ctx.fillStyle = INK;
    ctx.textBaseline = 'middle';
    ctx.textAlign = 'left';
    (opts.lines || []).forEach(function(n) {
      ctx.font = n.size + 'px ' + FONT;
      ctx.fillText(n.text, n.x, n.y);
    });
    if (opts.legend) {
      var g = opts.legend;
      ctx.fillStyle = '#ffffff';
      ctx.fillRect(g.x, g.y, 600, g.h);
      ctx.strokeStyle = '#8a8a8a';
      ctx.lineWidth = 1;
      ctx.strokeRect(g.x + 0.5, g.y + 0.5, 600, g.h);
      var cy = g.y + g.h / 2;
      ctx.font = '15.5px ' + FONT;
      ctx.fillStyle = '#000000';
      ctx.beginPath(); ctx.arc(g.x + 26, cy, 2, 0, 2 * Math.PI); ctx.fill();
      ctx.fillStyle = INK;
      ctx.fillText('Assimilated', g.x + 50, cy);
      ctx.strokeStyle = '#000000'; ctx.lineWidth = 3;
      ctx.beginPath(); ctx.moveTo(g.x + 133, cy); ctx.lineTo(g.x + 180, cy); ctx.stroke();
      ctx.fillStyle = '#d95319';
      ctx.beginPath(); ctx.arc(g.x + 236, cy, 2, 0, 2 * Math.PI); ctx.fill();
      ctx.fillStyle = INK;
      ctx.fillText('Nequick', g.x + 260, cy);
      ctx.strokeStyle = '#ff0000'; ctx.lineWidth = 3;
      ctx.beginPath(); ctx.moveTo(g.x + 319, cy); ctx.lineTo(g.x + 365, cy); ctx.stroke();
    }
    ctx.restore();
  }
};

function panel(id, o) {
  var ctx = document.getElementById(id).getContext('2d');
  return new Chart(ctx, {
    type: 'scatter',
    data: {
      datasets: [
        { data: o.fitNequick, showLine: true, borderColor: '#ff0000', borderWidth: 3, pointRadius: 0, order: 0 },
        { data: o.fitAssim, showLine: true, borderColor: '#000000', borderWidth: 3, pointRadius: 0, order: 0 },
        { data: o.assim, backgroundColor: '#000000', borderWidth: 0, pointRadius: 2.6, order: 1 },
        { data: o.nequick, backgroundColor: '#d95319', borderWidth: 0, pointRadius: 2.6, order: 2 }
      ]
    },
    options: {
      responsive: false,
      animation: false,
      devicePixelRatio: 1,
      events: [],
      layout: { padding: { left: 0, top: o.padTop, right: o.padRight, bottom: 0 } },
      plugins: {
        legend: { display: false },
        tooltip: { enabled: false },
        notes: { lines: o.notes, legend: o.legend }
      },
      scales: {
        x: {
          type: 'linear', min: 0, max: o.xMax,
          ticks: { stepSize: o.xStep, autoSkip: false, maxRotation: 0, padding: o.xTickPad, color: INK, font: { family: FONT, size: 18 } },
          grid: { display: false, drawTicks: false },
          border: { display: false },
          title: { display: true, text: o.xTitle, color: INK, font: { family: FONT, size: 19 }, padding: { top: 0, bottom: 1 } },
          afterFit: function(s) { s.height = o.xH; }
        },
        y: {
          type: 'linear', min: 0, max: o.yMax,
          ticks: { display: o.yLabels, stepSize: o.yStep, autoSkip: false, padding: 8, color: INK, font: { family: FONT, size: 18 } },
          grid: { display: false, drawTicks: false },
          border: { display: false },
          title: { display: !!o.yTitle, text: o.yTitle, color: INK, font: { family: FONT, size: 17 }, padding: { top: 3, bottom: 0 } },
          afterFit: function(s) { s.width = o.yW; }
        }
      }
    },
    plugins: [boxTicks, notes]
  });
}

window.onload = function() {
  panel('toChart', {
    assim: toAssim, nequick: toNequick, fitAssim: toFitAssim, fitNequick: toFitNequick,
    xMax: 12, xStep: 2, yMax: 12, yStep: 2, yLabels: true,
    xTitle: 'Observed foF2 (MHz)', yTitle: 'Assimilated/Nequick foF2 (MHz)',
    padTop: 19, padRight: 17, xH: 46, yW: 55, xTickPad: 7,
    notes: [
      { text: 'r Nequick: 0.90', x: 61, y: 29, size: 16 },
      { text: 'r Assimilated: 0.95', x: 61, y: 50, size: 16 },
      { text: 'rmse Nequick: 0.97', x: 61, y: 71, size: 16 },
      { text: 'rmse Assimilated: 0.44', x: 61, y: 91.5, size: 16 },
      { text: '(a) TO536', x: 317, y: 28, size: 18.5 }
    ]
  });
  panel('icChart', {
    assim: icAssim, nequick: icNequick, fitAssim: icFitAssim, fitNequick: icFitNequick,
    xMax: 12, xStep: 2, yMax: 12, yStep: 2, yLabels: false,
    xTitle: 'Observed foF2 (MHz)', yTitle: '',
    padTop: 10, padRight: 16, xH: 46, yW: 8, xTickPad: 7,
    notes: [
      { text: '(b) IC437', x: 36, y: 64, size: 18.5 },
      { text: 'r Nequick: 0.89', x: 251, y: 158, size: 16 },
      { text: 'r Assimilated: 0.96', x: 251, y: 179, size: 16 },
      { text: 'rmse Nequick: 0.88', x: 251, y: 199, size: 16 },
      { text: 'rmse Assimilated: 0.38', x: 251, y: 219, size: 16 }
    ],
    legend: { x: 17, y: 0, h: 26 }
  });
  panel('tcChart', {
    assim: tcAssim, nequick: tcNequick, fitAssim: tcFitAssim, fitNequick: tcFitNequick,
    xMax: 70, xStep: 10, yMax: 70, yStep: 10, yLabels: true,
    xTitle: 'Observed TEC (TECU)', yTitle: 'Assimilated/Nequick TEC (TECU)',
    padTop: 19, padRight: 17, xH: 51, yW: 55, xTickPad: 8,
    notes: [
      { text: 'r Nequick: 0.86', x: 60, y: 29, size: 16 },
      { text: 'r Assimilated: 0.98', x: 60, y: 49.5, size: 16 },
      { text: 'rmse Nequick: 7.47', x: 60, y: 70, size: 16 },
      { text: 'rmse Assimilated: 3.04', x: 60, y: 91, size: 16 },
      { text: '(c) TCMS', x: 301, y: 29.5, size: 18.5 }
    ]
  });
  panel('yoChart', {
    assim: yoAssim, nequick: yoNequick, fitAssim: yoFitAssim, fitNequick: yoFitNequick,
    xMax: 70, xStep: 10, yMax: 70, yStep: 10, yLabels: false,
    xTitle: 'Observed TEC (TECU)', yTitle: '',
    padTop: 11, padRight: 21, xH: 51, yW: 8, xTickPad: 8,
    notes: [
      { text: '(d) YONS', x: 36, y: 59, size: 18.5 },
      { text: 'r Nequick: 0.87', x: 237, y: 121.5, size: 16 },
      { text: 'r Assimilated: 0.98', x: 237, y: 142, size: 16 },
      { text: 'rmse Nequick: 3.83', x: 237, y: 162, size: 16 },
      { text: 'rmse Assimilated: 0.92', x: 237, y: 182.5, size: 16 }
    ]
  });
};
</script>
</body>
</html>
